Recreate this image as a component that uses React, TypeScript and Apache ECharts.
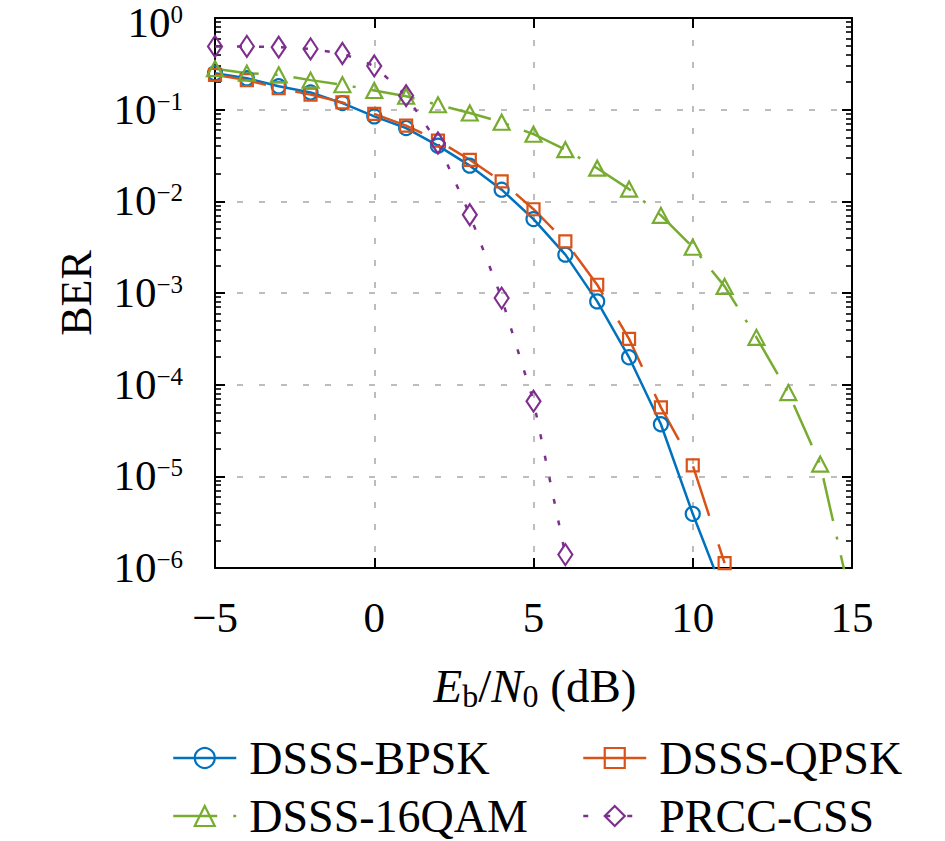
import React, { useEffect, useRef } from "react";
import * as echarts from "echarts";

// ---- data ----
const snrBPSK = [-5, -4, -3, -2, -1, 0, 1, 2, 3, 4, 5, 6, 7, 8, 9, 10, 11];
const berBPSK = [0.25, 0.22, 0.18, 0.154, 0.118, 0.0845, 0.063, 0.0405, 0.0245, 0.0134, 0.0064, 0.00262, 8.1e-4, 1.99e-4, 3.7e-5, 3.9e-6, 5e-7];

const snrQPSK = [-5, -4, -3, -2, -1, 0, 1, 2, 3, 4, 5, 6, 7, 8, 9, 10, 11];
const berQPSK = [0.24, 0.21, 0.172, 0.146, 0.12, 0.09, 0.067, 0.046, 0.0284, 0.0165, 0.0082, 0.00366, 1.23e-3, 3.16e-4, 5.65e-5, 1.32e-5, 1.13e-6];

const snr16QAM = [-5, -4, -3, -2, -1, 0, 1, 2, 3, 4, 5, 6, 7, 8, 9, 10, 11, 12, 13, 14, 15];
const ber16QAM = [0.28, 0.25, 0.24, 0.21, 0.187, 0.162, 0.14, 0.113, 0.092, 0.073, 0.054, 0.0366, 0.023, 0.0136, 0.00703, 0.00316, 1.18e-3, 3.28e-4, 8.2e-5, 1.36e-5, 4e-7];

const snrPRCC = [-5, -4, -3, -2, -1, 0, 1, 2, 3, 4, 5, 6];
const berPRCC = [0.49, 0.49, 0.48, 0.46, 0.41, 0.3, 0.142, 0.0433, 0.00714, 8.8e-4, 6.6e-5, 1.4e-6];

const seriesNames = ["DSSS-BPSK", "DSSS-QPSK", "DSSS-16QAM", "PRCC-CSS"];
const xMin = -5;
const xMax = 15;
const xStep = 5;
const yMinExp = -6;
const yMaxExp = 0;
const minorMultipliers = [2, 3, 4, 5, 6, 7, 8, 9];

const COLORS = ["#0072BD", "#D95319", "#77AC30", "#7E2F8E"];
const FONT = "Liberation Serif";

export default function App() {
  const ref = useRef<HTMLDivElement>(null);

  useEffect(() => {
    if (!ref.current) return;
    const chart = echarts.init(ref.current, null, { renderer: "svg" });

    const minorLogValues: number[] = [];
    for (let d = yMinExp; d < yMaxExp; d++) {
      for (const m of minorMultipliers) minorLogValues.push(d + Math.log10(m));
    }

    const grid = { left: 215, top: 18, width: 637, height: 550, outerBoundsMode: "none", containLabel: false };

    const tickLine = { color: "#000", width: 2 };
    const gridLine = { color: "#a8a8a8", width: 1.5, type: [6, 16] as number[] };

    const mk = (
      name: string,
      xs: number[],
      ys: number[],
      color: string,
      symbol: string,
      size: number | number[],
      dash: any
    ) => ({
      type: "line",
      name,
      data: xs.map((x, i) => [x, ys[i]]),
      xAxisIndex: 0,
      yAxisIndex: 0,
      symbol,
      symbolSize: size,
      showSymbol: true,
      showAllSymbol: true,
      clip: true,
      lineStyle: { color, width: 2.5, type: dash },
      itemStyle: { color: "rgba(255,255,255,0)", borderColor: color, borderWidth: 2.2 },
      emphasis: { disabled: true },
    });

    const series = [
      mk(seriesNames[0], snrBPSK, berBPSK, COLORS[0], "circle", 14, "solid"),
      mk(seriesNames[1], snrQPSK, berQPSK, COLORS[1], "rect", 12, [52, 30]),
      mk(seriesNames[2], snr16QAM, ber16QAM, COLORS[2], "triangle", [16, 15], [44, 16, 3, 16]),
      mk(seriesNames[3], snrPRCC, berPRCC, COLORS[3], "diamond", [14, 21], [5, 17]),
    ];

    const legendPos = [
      { left: 172, top: 735 },
      { left: 582, top: 735 },
      { left: 172, top: 793 },
      { left: 582, top: 793 },
    ];
    const legendLineTypes: any[] = ["solid", "solid", [44, 16, 3, 16], [5, 17]];

    const legends = seriesNames.map((n, i) => ({
      show: true,
      data: [n],
      left: legendPos[i].left,
      top: legendPos[i].top,
      padding: 0,
      itemWidth: 63,
      itemHeight: 25,
      selectedMode: false,
      itemStyle: { color: "rgba(255,255,255,0)", borderColor: COLORS[i], borderWidth: 2.2 },
      lineStyle: { color: COLORS[i], width: 2.5, type: legendLineTypes[i] },
      textStyle: {
        fontFamily: FONT,
        fontSize: 46,
        color: "#000",
        padding: [0, 0, 0, 8],
      },
    }));

    const expText = (e: number) => {
      const s = e < 0 ? "\u2212" + -e : String(e);
      return "{b|10}{s|" + s + "}";
    };
    const expLabel = (v: number) => expText(Math.round(Math.log10(v)));
    const labelRich = {
      b: { fontFamily: FONT, fontSize: 43, lineHeight: 42, color: "#000", fill: "#000", verticalAlign: "bottom" },
      s: { fontFamily: FONT, fontSize: 25, lineHeight: 28, color: "#000", fill: "#000", verticalAlign: "top" },
    };

    const option: any = {
      animation: false,
      backgroundColor: "#fff",
      textStyle: { fontFamily: FONT },
      grid,
      xAxis: [
        {
          type: "value",
          min: xMin,
          max: xMax,
          interval: xStep,
          position: "bottom",
          axisLine: { show: true, onZero: false, lineStyle: tickLine },
          axisTick: { show: true, inside: true, length: 10, lineStyle: tickLine },
          axisLabel: {
            show: true,
            margin: 28,
            fontFamily: FONT,
            fontSize: 43,
            color: "#000",
            formatter: (v: number) => (v < 0 ? "\u2212" + -v : String(v)),
          },
          splitLine: { show: true, lineStyle: gridLine },
        },
        {
          type: "value",
          min: xMin,
          max: xMax,
          interval: xStep,
          position: "top",
          axisLine: { show: true, onZero: false, lineStyle: tickLine },
          axisTick: { show: true, inside: true, length: 10, lineStyle: tickLine },
          axisLabel: { show: false },
          splitLine: { show: false },
        },
      ],
      yAxis: [
        {
          type: "log",
          logBase: 10,
          min: Math.pow(10, yMinExp),
          max: Math.pow(10, yMaxExp),
          splitNumber: yMaxExp - yMinExp,
          position: "left",
          axisLine: { show: true, onZero: false, lineStyle: tickLine },
          axisTick: { show: true, inside: true, length: 10, lineStyle: tickLine },
          axisLabel: {
            show: true,
            showMaxLabel: false,
            margin: 32,
            color: "#000",
            fontFamily: FONT,
            formatter: expLabel,
            rich: labelRich,
          },
          splitLine: { show: true, lineStyle: gridLine },
          minorTick: { show: false },
        },
        {
          type: "value",
          min: yMinExp,
          max: yMaxExp,
          position: "left",
          axisLine: { show: false, onZero: false },
          axisTick: { show: true, inside: true, length: 6, lineStyle: { color: "#000", width: 1.6 }, customValues: minorLogValues },
          axisLabel: { show: false },
          splitLine: { show: false },
        },
        {
          type: "log",
          logBase: 10,
          min: Math.pow(10, yMinExp),
          max: Math.pow(10, yMaxExp),
          splitNumber: yMaxExp - yMinExp,
          position: "right",
          axisLine: { show: true, onZero: false, lineStyle: tickLine },
          axisTick: { show: true, inside: true, length: 10, lineStyle: tickLine },
          axisLabel: { show: false },
          splitLine: { show: false },
        },
        {
          type: "value",
          min: yMinExp,
          max: yMaxExp,
          position: "right",
          axisLine: { show: false, onZero: false },
          axisTick: { show: true, inside: true, length: 6, lineStyle: { color: "#000", width: 1.6 }, customValues: minorLogValues },
          axisLabel: { show: false },
          splitLine: { show: false },
        },
      ],
      legend: legends,
      series,
      graphic: [
        {
          // top tick label 10^0, nudged down slightly as in the reference
          type: "text",
          x: 183,
          y: 23,
          style: {
            text: expText(yMaxExp),
            fill: "#000",
            align: "right",
            verticalAlign: "middle",
            textAlign: "right",
            textVerticalAlign: "middle",
            rich: labelRich,
          },
        },
        {
          type: "text",
          x: 76,
          y: 293,
          rotation: Math.PI / 2,
          style: {
            text: "BER",
            fontFamily: FONT,
            fontSize: 44,
            fill: "#000",
            align: "center",
            verticalAlign: "middle",
            textAlign: "center",
            textVerticalAlign: "middle",
          },
        },
        {
          type: "text",
          x: 535,
          y: 687,
          style: {
            text: "{i|E}{sb|b}{n|/}{i|N}{sb|0}{n| (dB)}",
            fill: "#000",
            align: "center",
            verticalAlign: "middle",
            textAlign: "center",
            textVerticalAlign: "middle",
            rich: {
              i: { fontFamily: FONT, fontSize: 47, fontStyle: "italic", lineHeight: 50, verticalAlign: "top", fill: "#000" },
              n: { fontFamily: FONT, fontSize: 47, lineHeight: 50, verticalAlign: "top", fill: "#000" },
              sb: { fontFamily: FONT, fontSize: 32, lineHeight: 28, verticalAlign: "bottom", fill: "#000" },
            },
          },
        },
      ],
    };

    chart.setOption(option);
    return () => chart.dispose();
  }, []);

  return (
    <div
      ref={ref}
      style={{ position: "absolute", left: 0, top: 0, width: 945, height: 841, background: "#fff" }}
    />
  );
}
